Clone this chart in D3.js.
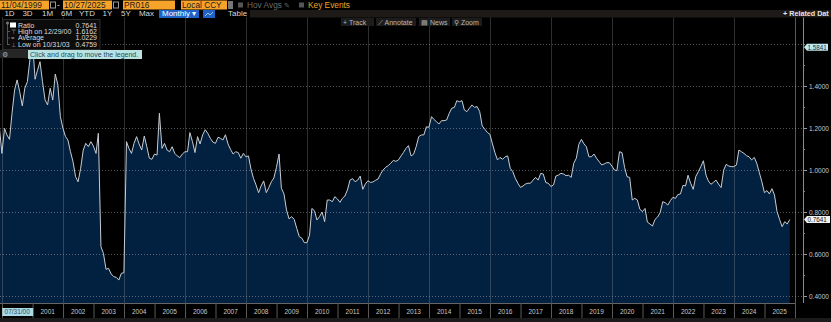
<!DOCTYPE html>
<html><head><meta charset="utf-8">
<script src="https://cdn.jsdelivr.net/npm/d3@7"></script>
<style>
html,body{margin:0;padding:0;background:#000;}
svg{display:block;font-family:"Liberation Sans",Arial,sans-serif;}
</style></head><body>
<svg id="c" width="831" height="322"></svg>
<script>
// Monthly ratio, Nov 1999 .. Oct 2025 (month-end observations)
const startYear = 1999, startMonth = 10; // November 1999 (0-based month)
const ratio = [
  1.206,1.079,
  1.198,1.167,1.146,1.270,1.381,1.429,1.373,1.305,1.389,1.421,1.524,1.616,
  1.432,1.473,1.516,1.421,1.333,1.310,1.389,1.333,1.457,1.405,1.254,1.198,
  1.159,1.143,1.087,1.040,0.968,0.944,1.008,1.095,1.127,1.111,1.135,1.114,
  1.079,1.175,0.635,0.603,0.527,0.532,0.505,0.492,0.489,0.4759,0.508,0.511,
  1.135,1.103,1.079,1.127,1.159,1.124,1.095,1.162,1.111,1.056,1.051,1.076,
  1.071,1.270,1.103,1.127,1.095,1.087,1.111,1.079,1.067,1.059,1.076,1.087,
  1.087,1.178,1.135,1.083,1.159,1.124,1.167,1.192,1.175,1.151,1.133,1.127,
  1.156,1.151,1.143,1.168,1.124,1.098,1.076,1.087,1.083,1.056,1.079,1.063,
  1.067,1.005,0.960,0.929,0.892,0.924,0.948,0.892,0.916,0.944,0.962,1.013,
  1.076,0.913,0.886,0.810,0.767,0.778,0.765,0.722,0.683,0.675,0.654,0.654,
  0.690,0.817,0.806,0.762,0.778,0.800,0.754,0.857,0.857,0.849,0.873,0.862,
  0.846,0.865,0.876,0.905,0.952,0.959,0.944,0.952,0.971,0.908,0.933,0.949,
  0.941,0.943,0.951,0.957,0.981,1.000,1.013,1.021,1.032,1.046,1.041,1.048,
  1.067,1.083,1.103,1.116,1.067,1.075,1.111,1.159,1.167,1.167,1.206,1.203,
  1.254,1.241,1.230,1.219,1.235,1.235,1.238,1.270,1.294,1.298,1.330,1.325,
  1.330,1.286,1.278,1.294,1.310,1.298,1.302,1.278,1.210,1.194,1.179,1.170,
  1.124,1.083,1.048,1.060,1.051,1.063,1.067,1.008,0.992,0.960,0.937,0.917,
  0.924,0.933,0.937,0.937,0.952,0.965,0.952,0.984,0.981,0.940,0.937,0.921,
  0.929,0.971,0.976,0.984,0.981,0.973,0.975,0.965,1.032,1.056,1.122,1.146,
  1.124,1.111,1.063,1.063,1.076,1.056,1.040,1.024,1.029,1.035,1.035,1.019,
  1.000,0.997,1.087,1.083,1.013,0.968,0.965,0.857,0.865,0.857,0.813,0.802,
  0.817,0.752,0.743,0.733,0.765,0.776,0.797,0.849,0.844,0.833,0.854,0.870,
  0.865,0.883,0.886,0.927,0.924,0.975,0.937,0.908,0.968,0.992,1.016,1.044,
  0.976,0.948,0.932,0.941,0.952,0.933,0.916,1.000,1.027,1.019,1.016,1.016,
  1.024,1.095,1.087,1.079,1.068,1.063,1.048,1.060,1.032,0.987,0.944,0.892,
  0.902,0.886,0.911,0.881,0.802,0.765,0.730,0.754,0.743,0.7641
];
const yTicks = [0.4,0.6,0.8,1.0,1.2,1.4,1.6];
const yLabelTicks = [0.4,0.6,0.8,1.0,1.2,1.4];
const yMinorTicks = [0.5,0.7,0.9,1.1,1.3,1.5];
const yearLabels = d3.range(2001, 2026);
const firstXLabel = "07/31/00";
const legendRows = [
  {sym:"box", label:"Ratio", value:"0.7641"},
  {sym:"⊤", label:"High on 12/29/00", value:"1.6162"},
  {sym:"=", label:"Average", value:"1.0229"},
  {sym:"⊥", label:"Low on 10/31/03", value:"0.4759"}
];
const periodButtons = ["1D","3D","1M","6M","YTD","1Y","5Y","Max"];
const lastValueLabel = "0.7641";
const crossValueLabel = "1.5841";

const data = ratio.map((v,i)=>({date:new Date(startYear, startMonth+i+1, 0), v}));

const W=831,H=322;
const svg=d3.select("#c");
svg.append("rect").attr("width",W).attr("height",H).attr("fill","#000");

const plotTop=17, plotBottom=303, plotRight=803;
const x=d3.scaleTime().domain([new Date(2000,0,1),new Date(2026,0,1)]).range([2,795]);
const y=d3.scaleLinear().domain([0.4,1.6]).range([296,44]);

svg.append("clipPath").attr("id","clip").append("rect")
  .attr("x",0).attr("y",plotTop).attr("width",795).attr("height",plotBottom-plotTop);

const area=d3.area().x(d=>x(d.date)).y0(plotBottom).y1(d=>y(d.v));
const line=d3.line().x(d=>x(d.date)).y(d=>y(d.v));
svg.append("path").datum(data).attr("clip-path","url(#clip)")
  .attr("d",area).attr("fill","#02203f");

// grid
const gGrid=svg.append("g");
gGrid.selectAll("line.h").data(yTicks).join("line")
  .attr("x1",0).attr("x2",plotRight).attr("y1",d=>Math.round(y(d))+0.5).attr("y2",d=>Math.round(y(d))+0.5)
  .attr("stroke","rgba(200,200,200,0.42)").attr("stroke-width",1).attr("stroke-dasharray","1,2");
const vTicks=d3.timeYear.every(2).range(new Date(2000,0,1),new Date(2026,0,2));
gGrid.selectAll("line.v").data(vTicks).join("line")
  .attr("x1",d=>Math.round(x(d))+0.5).attr("x2",d=>Math.round(x(d))+0.5)
  .attr("y1",plotTop).attr("y2",plotBottom)
  .attr("stroke",(d)=>d.getFullYear()===2026?"rgba(200,200,200,0.45)":"rgba(170,170,170,0.28)").attr("stroke-width",1);

svg.append("path").datum(data).attr("clip-path","url(#clip)")
  .attr("d",line).attr("fill","none").attr("stroke","#c9cdd2").attr("stroke-width",1);

// right axis
const yAxis=svg.append("g").attr("transform",`translate(${plotRight},0)`)
  .call(d3.axisRight(y).tickValues(yLabelTicks).tickFormat(d3.format(".4f")).tickSize(4).tickPadding(2));
yAxis.select(".domain").remove();
yAxis.selectAll("line").attr("stroke","#999");
yAxis.selectAll("text").attr("fill","#c8c8c8").attr("font-size",6.5).attr("font-family","Liberation Sans, Arial, sans-serif");
svg.append("g").attr("transform",`translate(${plotRight},0)`)
  .call(d3.axisRight(y).tickValues(yMinorTicks.concat([1.6])).tickFormat("").tickSize(2))
  .call(g=>{g.select(".domain").remove();g.selectAll("line").attr("stroke","#888");});
svg.append("line").attr("x1",plotRight+0.5).attr("x2",plotRight+0.5).attr("y1",plotTop).attr("y2",plotBottom)
  .attr("stroke","#8a8a8a").attr("stroke-width",1);

function axisTag(val,label,bg,fg,w){
  const yy=y(val);
  const g=svg.append("g");
  g.append("path").attr("d",`M${plotRight+1},${yy} L${plotRight+4},${yy-3.5} H${plotRight+4+w} V${yy+3.5} H${plotRight+4} Z`).attr("fill",bg);
  g.append("text").attr("x",plotRight+4.5).attr("y",yy).attr("dy","0.35em").attr("font-size",6.3).attr("fill",fg).text(label);
}
axisTag(1.5841,crossValueLabel,"#bfe9ef","#234",21);
axisTag(0.7641,lastValueLabel,"#f2f2f2","#111",23);

// bottom axis band
const xAxisG=svg.append("g").attr("transform",`translate(0,${plotBottom})`);
xAxisG.append("line").attr("x1",0).attr("x2",795).attr("y1",0.5).attr("y2",0.5).attr("stroke","#666");
xAxisG.call(d3.axisBottom(x).ticks(d3.timeYear.every(1)).tickFormat("").tickSize(15));
xAxisG.select(".domain").remove();
xAxisG.selectAll(".tick line").attr("stroke","#5a5a5a");
xAxisG.selectAll("text.yl").data(yearLabels).join("text").attr("class","yl")
  .attr("x",d=>x(new Date(d,6,1))).attr("y",11).attr("text-anchor","middle")
  .attr("font-size",6.5).attr("fill","#c8c8c8").text(d=>d);
const fx=x(new Date(2000,6,1));
xAxisG.append("rect").attr("x",fx-15).attr("y",5).attr("width",31).attr("height",8).attr("fill","#a9dbe6");
xAxisG.append("text").attr("x",fx).attr("y",11).attr("text-anchor","middle").attr("font-size",6.5).attr("fill","#2a4f66").text(firstXLabel);
svg.append("rect").attr("x",0).attr("y",318).attr("width",W).attr("height",4).attr("fill","#1b1b1b");

// ===== toolbar row 1 =====
const t1=svg.append("g").attr("font-size",8.3);
function orangeBox(x0,w,label){
  t1.append("rect").attr("x",x0).attr("y",0.5).attr("width",w).attr("height",9).attr("fill","#f6a429");
  t1.append("text").attr("x",x0+1).attr("y",8).attr("fill","#1a1a1a").text(label);
}
orangeBox(0,49,"11/04/1999");
orangeBox(63,49,"10/27/2025");
orangeBox(123,52,"PR016");
orangeBox(181,46,"Local CCY");
function calIcon(x0){
  t1.append("rect").attr("x",x0).attr("y",2).attr("width",5).attr("height",6).attr("fill","none").attr("stroke","#9a9a9a");
}
calIcon(50.5);calIcon(113.5);
t1.append("text").attr("x",57).attr("y",8).attr("fill","#ddd").text("-");
t1.append("rect").attr("x",228).attr("y",1).attr("width",5).attr("height",8).attr("fill","#777");
t1.append("rect").attr("x",238).attr("y",2.5).attr("width",5).attr("height",5).attr("fill","#555");
t1.append("text").attr("x",247).attr("y",8).attr("fill","#6a6a6a").text("Hov Avgs");
t1.append("text").attr("x",284).attr("y",8).attr("fill","#6a6a6a").attr("font-size",7).text("✎");
t1.append("rect").attr("x",299).attr("y",2.5).attr("width",5).attr("height",5).attr("fill","#555");
t1.append("text").attr("x",308).attr("y",8).attr("fill","#f0a020").text("Key Events");

// ===== toolbar row 2 =====
svg.append("rect").attr("x",250).attr("y",10).attr("width",W-250).attr("height",7.5).attr("fill","#1d1a18");
const t2=svg.append("g").attr("font-size",8);
const btnX=[9.5,27.5,47.5,66.5,87,107.5,126,146.5];
t2.selectAll("text.pb").data(periodButtons).join("text").attr("class","pb")
  .attr("x",(d,i)=>btnX[i]).attr("y",16).attr("text-anchor","middle").attr("fill","#d8d8d8").text(d=>d);
t2.append("rect").attr("x",159).attr("y",10).attr("width",40).attr("height",8).attr("fill","#1f63c6");
t2.append("text").attr("x",162).attr("y",16).attr("fill","#fff").text("Monthly ▾");
t2.append("rect").attr("x",203).attr("y",10).attr("width",12).attr("height",8).attr("fill","#1f63c6");
t2.append("path").attr("d","M205,16 L208,13 L210,15 L213,12").attr("stroke","#cde").attr("fill","none").attr("stroke-width",0.8);
t2.append("text").attr("x",228).attr("y",16).attr("fill","#d8d8d8").text("Table");
t2.append("text").attr("x",783).attr("y",16).attr("fill","#e8e8e8").attr("font-weight","bold").attr("font-size",7.2).text("+ Related Dat");

// ===== row 3 buttons =====
const t3=svg.append("g").attr("font-size",7);
[[341,33,"+  Track"],[376,40,"⟋  Annotate"],[419,31,"▤  News"],[452,30,"⚲  Zoom"]].forEach(([bx,bw,lab])=>{
  t3.append("rect").attr("x",bx).attr("y",18).attr("width",bw).attr("height",8).attr("fill","#1c1c1c");
  t3.append("text").attr("x",bx+2).attr("y",24.5).attr("fill","#b8b8b8").text(lab);
});

// ===== legend =====
const lg=svg.append("g").attr("font-size",7);
lg.append("rect").attr("x",3).attr("y",19.5).attr("width",97).attr("height",30).attr("fill","#0c0c0c").attr("stroke","#2b2b2b");
lg.append("path").attr("d","M7.5,24 V45 M7.5,31.5 H10 M7.5,38 H10 M7.5,44.5 H10").attr("stroke","#555").attr("fill","none");
lg.append("circle").attr("cx",7.5).attr("cy",23).attr("r",1.5).attr("fill","#777");
legendRows.forEach((r,i)=>{
  const yy=27.5+i*6.4;
  if(r.sym==="box") lg.append("rect").attr("x",10).attr("y",yy-5).attr("width",6).attr("height",5).attr("fill","#fff");
  else lg.append("text").attr("x",11).attr("y",yy).attr("fill","#aaa").attr("font-size",6).text(r.sym);
  lg.append("text").attr("x",18).attr("y",yy).attr("fill","#dcdcdc").text(r.label);
  lg.append("text").attr("x",97).attr("y",yy).attr("text-anchor","end").attr("fill","#dcdcdc").text(r.value);
});
svg.append("rect").attr("x",0).attr("y",50).attr("width",28).attr("height",8).attr("fill","#262626");
svg.append("text").attr("x",2).attr("y",56.5).attr("font-size",7).attr("fill","#aaa").text("⚙");
svg.append("rect").attr("x",28).attr("y",50).attr("width",114).attr("height",9).attr("fill","#b9e3e3");
svg.append("text").attr("x",30).attr("y",56.8).attr("font-size",7).attr("fill","#1d4e5c").text("Click and drag to move the legend.");
</script>
</body></html>
